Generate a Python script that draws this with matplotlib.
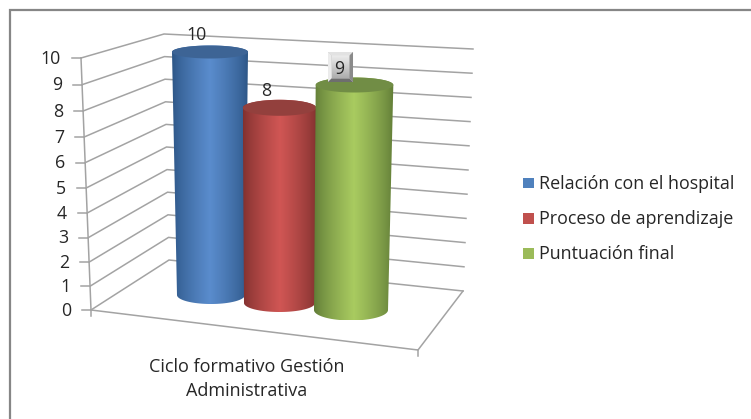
import numpy as np
import matplotlib
matplotlib.use("Agg")
import matplotlib.pyplot as plt
from matplotlib.patches import Rectangle, PathPatch, Polygon
from matplotlib.path import Path

# ---- data
category_label = "Ciclo formativo Gestión\nAdministrativa"
series_names = ["Relación con el hospital", "Proceso de aprendizaje", "Puntuación final"]
series_values = [10, 8, 9]
y_ticks = list(range(0, 11))
y_max = 10

# ---- styles
W, H = 751, 419
FONT = "Open Sans"
TXT = "#262626"
GRID = "#a3a3a3"
legend_colors = ["#4f81bd", "#c0504d", "#9bbb59"]
edge_colors = ["#2c5585", "#7f302e", "#5f7a36"]
mid_colors = ["#5a8ccd", "#d05654", "#a9cb60"]
top_colors = ["#3d6495", "#93403d", "#718d45"]

# projection of the 3-D box into pixels
FL0, FL1 = (91, 310), (81, 58)     # front-left edge, value 0 and max
BL0, BL1 = (169, 260), (164, 34)   # back-left
BR0, BR1 = (463, 291), (473, 49)   # back-right
FR0 = (418, 350)                   # front-right floor corner
PERSP = 1.066

# cylinder geometry
cyl_base_x = [211, 279.5, 351]
cyl_lean = [-0.1, 0.0, 0.39]       # x drift of the centre per unit
cyl_base_y = [295, 303, 310]
cyl_hw_base = [34, 35.5, 37]
cyl_hw_top = [38, 37, 39]
cyl_unit = [24.3, 24.4, 25.0]
cyl_ry_base = [9, 9, 10.5]
cyl_ry_top = [6.5, 8, 7.5]
label_offsets = [(-14, -19), (-13.5, -18), (-14.5, -18)]
label_text_shift = 1.5


def front_t(v):
    return v / (v + PERSP * (y_max - v))


def lerp(a, b, t):
    return (a[0] + (b[0] - a[0]) * t, a[1] + (b[1] - a[1]) * t)


fig = plt.figure(figsize=(W / 100, H / 100), dpi=100, facecolor="white")
ax = fig.add_axes([0, 0, 1, 1])
ax.set_xlim(0, W)
ax.set_ylim(H, 0)
ax.axis("off")

# chart frame
ax.add_patch(Rectangle((9.5, 10.5), 800, 500, fc="white", ec="#868686", lw=1.6, zorder=0))

# walls, gridlines, ticks
for v in y_ticks:
    fl = lerp(FL0, FL1, front_t(v))
    bl = lerp(BL0, BL1, v / y_max)
    br = lerp(BR0, BR1, v / y_max)
    ax.plot([fl[0], bl[0], br[0]], [fl[1], bl[1], br[1]], color=GRID, lw=1.1, zorder=1, solid_joinstyle="miter")
    ax.plot([fl[0] - 9, fl[0]], [fl[1], fl[1]], color=GRID, lw=1.1, zorder=1)
    ax.text(fl[0] - 20, fl[1] + 0.5, str(v), ha="right", va="center", fontsize=12.8, color=TXT, family=FONT)
ax.plot([FL0[0], FL1[0]], [FL0[1], FL1[1]], color=GRID, lw=1.1, zorder=1)
# floor
ax.plot([FL0[0], FR0[0], BR0[0]], [FL0[1], FR0[1], BR0[1]], color=GRID, lw=1.1, zorder=1)
ax.plot([FL0[0], FL0[0]], [FL0[1], FL0[1] + 6], color=GRID, lw=1.1, zorder=1)
ax.plot([FR0[0], FR0[0]], [FR0[1], FR0[1] + 6], color=GRID, lw=1.1, zorder=1)


def hex_rgb(c):
    return np.array(matplotlib.colors.to_rgb(c))


def shade(n, edge, mid):
    u = np.linspace(-1, 1, n)
    w = np.clip(1 - np.abs(u), 0, 1) ** 0.75
    return hex_rgb(edge) * (1 - w)[:, None] + hex_rgb(mid) * w[:, None]


def draw_button(x, y):
    x0, x1, y0, y1 = x - 12, x + 13, y - 15, y + 15
    b = 3.5
    ax.add_patch(Rectangle((x0, y0), x1 - x0, y1 - y0, fc="#c8c8c8", ec="none", zorder=8))
    ix0, ix1, iy0, iy1 = x0 + b, x1 - b, y0 + b, y1 - b
    ax.imshow(np.linspace(0.93, 0.68, 40)[:, None, None].repeat(3, axis=2),
              extent=[ix0, ix1, iy1, iy0], aspect="auto", zorder=8.1, interpolation="bilinear")
    faces = [([(x0, y0), (x1, y0), (ix1, iy0), (ix0, iy0)], "#e2e2e2"),
             ([(x0, y0), (ix0, iy0), (ix0, iy1), (x0, y1)], "#ececec"),
             ([(x0, y1), (x1, y1), (ix1, iy1), (ix0, iy1)], "#6e6e6e"),
             ([(x1, y0), (x1, y1), (ix1, iy1), (ix1, iy0)], "#8a8a8a")]
    for pts, col in faces:
        ax.add_patch(Polygon(pts, closed=True, fc=col, ec="none", zorder=8.2))


# cylinders
for i, val in enumerate(series_values):
    cx, by = cyl_base_x[i], cyl_base_y[i]
    ty = by - val * cyl_unit[i]
    tcx = cx + cyl_lean[i] * val
    hwb = cyl_hw_base[i]
    hwt = cyl_hw_base[i] + (cyl_hw_top[i] - cyl_hw_base[i]) * val / y_max
    rb, rt = cyl_ry_base[i], cyl_ry_top[i]
    th = np.linspace(0, np.pi, 60)
    bx = cx + hwb * np.cos(th)
    byy = by + rb * np.sin(th)
    tx = tcx - hwt * np.cos(th)
    tyy = ty - rt * np.sin(th)
    verts = np.r_[np.c_[bx, byy], np.c_[tx, tyy], [[bx[0], byy[0]]]]
    clip = PathPatch(Path(verts), transform=ax.transData, fc="none", ec="none")
    ax.add_patch(clip)
    left, right = min(tcx - hwt, cx - hwb), max(tcx + hwt, cx + hwb)
    im = ax.imshow(shade(220, edge_colors[i], mid_colors[i])[None, :, :],
                   extent=[left, right, by + rb, ty - rt],
                   aspect="auto", zorder=3 + i, interpolation="bilinear")
    im.set_clip_path(clip)
    ellipse_t = np.linspace(0, 2 * np.pi, 90)
    ax.fill(tcx + hwt * np.cos(ellipse_t), ty + rt * np.sin(ellipse_t),
            color=top_colors[i], lw=0, zorder=3 + i + 0.1)
    lx, ly = tcx + label_offsets[i][0], ty + label_offsets[i][1]
    if i == 2:
        draw_button(lx, ly)
    ax.text(lx - (1 if i == 2 else 0), ly + label_text_shift, str(val), ha="center", va="center",
            fontsize=12.8, color=TXT, family=FONT, zorder=9)

ax.set_xlim(0, W)
ax.set_ylim(H, 0)

# category label
ax.text(247, 379, category_label, ha="center", va="center", fontsize=13, color=TXT, family=FONT, linespacing=1.36)

# legend
leg_y = [183, 218, 253]
for name, col, y in zip(series_names, legend_colors, leg_y):
    ax.add_patch(Rectangle((523, y - 5), 10.5, 10.5, fc=col, ec="none"))
    ax.text(539, y + 1, name, ha="left", va="center", fontsize=12.9, color=TXT, family=FONT)

fig.savefig("out.png", dpi=100, facecolor="white")
